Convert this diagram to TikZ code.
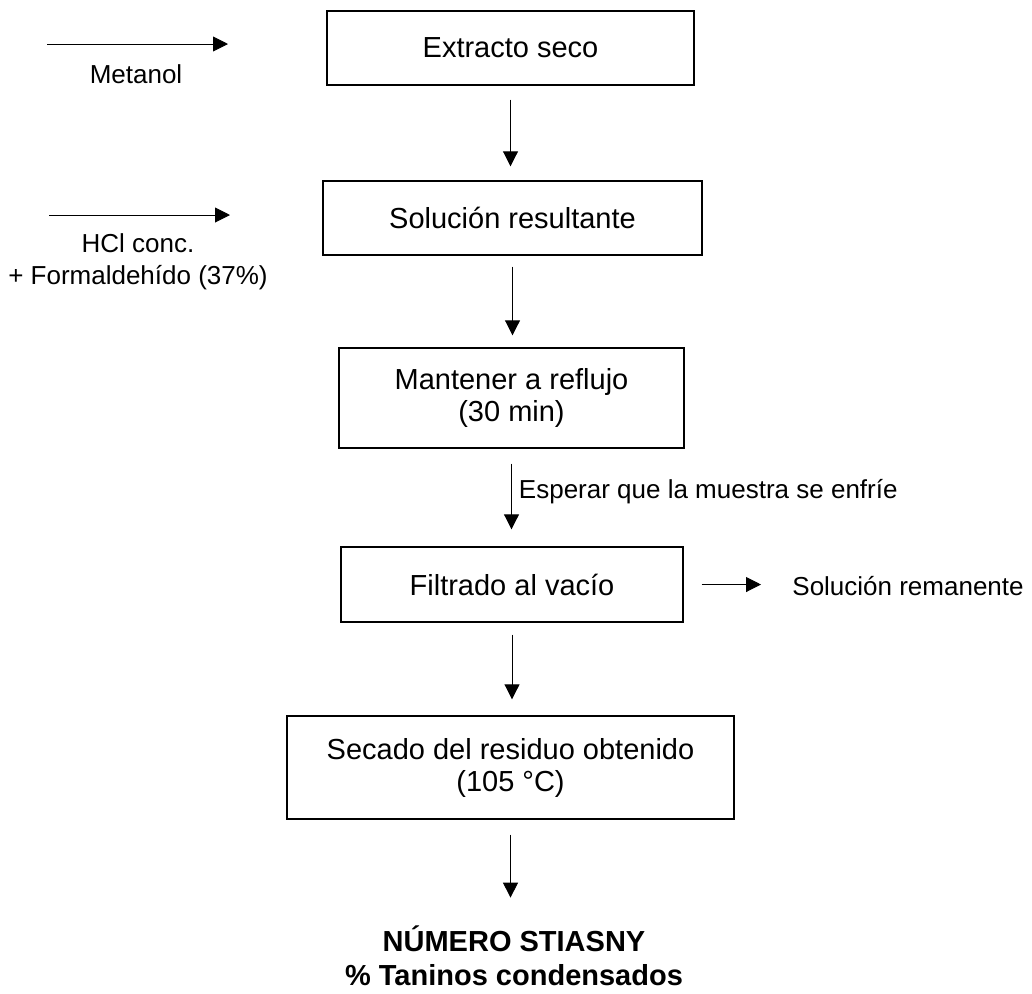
\documentclass[tikz,border=0pt]{standalone}
\usepackage{fontspec}
\setmainfont{Liberation Sans}
\usetikzlibrary{arrows.meta, positioning}

\begin{document}
\begin{tikzpicture}[x=0.5pt, y=-0.5pt,
  caja/.style={draw, line width=0.7pt, align=center, inner sep=0pt,
    font=\fontsize{14.5}{16}\selectfont},
  flecha/.style={-{Triangle[length=7.5pt, width=7.5pt]}, line width=0.45pt,
    shorten <=7pt, shorten >=7pt},
  lado/.style={align=center, inner sep=0pt, font=\fontsize{13}{16}\selectfont}]

  \useasboundingbox (0,0) rectangle (1032,993);

  %% ── Process steps ────────────────────
  \node[caja, minimum width=183.5pt, minimum height=37pt] (ext) at (510.5,48)
    {Extracto seco};
  \node[caja, minimum width=189.5pt, minimum height=37pt] (sol) at (512.5,218)
    {Solución resultante};
  \node[caja, minimum width=172.5pt, minimum height=50pt] (ref) at (511.5,398)
    {Mantener a reflujo\\(30 min)};
  \node[caja, minimum width=171pt, minimum height=37.5pt] (fil) at (512,584.5)
    {Filtrado al vacío};
  \node[caja, minimum width=223.5pt, minimum height=51.5pt] (sec) at (510.5,767.5)
    {Secado del residuo obtenido\\(105 °C)};
  \node[align=center, inner sep=0pt, font=\bfseries\fontsize{14.5}{17}\selectfont]
    (res) at (514,956) {NÚMERO STIASNY\\\% Taninos condensados};

  % main flow
  \draw[flecha] (ext.south) -- (ext.south |- sol.north);
  \draw[flecha, shorten <=5.5pt, shorten >=6pt] (sol.south) -- (sol.south |- ref.north);
  \draw[flecha, shorten <=7.5pt, shorten >=8.5pt] (ref.south) --
    node[lado, right=3.5pt, pos=0.44] (esp) {Esperar que la muestra se enfríe}
    (ref.south |- fil.north);
  \draw[flecha, shorten <=6pt, shorten >=8pt] (fil.south) -- (fil.south |- sec.north);
  \draw[flecha, shorten <=7.5pt, shorten >=14pt] (sec.south) -- (sec.south |- res.north);

  %% ── Inputs (left) ────────────────────
  \coordinate (met0) at (47,44);
  \coordinate (met1) at (228,44);
  \draw[flecha, shorten <=0pt, shorten >=0pt] (met0) -- (met1);
  \node[lado] (met) at (136,74) {Metanol};

  \coordinate (hcl0) at (49,215);
  \coordinate (hcl1) at (230,215);
  \draw[flecha, shorten <=0pt, shorten >=0pt] (hcl0) -- (hcl1);
  \node[lado] (hcl) at (138,262) {HCl conc.\\+ Formaldehído (37\%)};

  %% ── Output (right) ───────────────────
  \node[lado, anchor=west] (rem) at (792,586) {Solución remanente};
  \draw[flecha, shorten <=9pt, shorten >=15.5pt] (fil.east) -- (fil.east -| rem.west);

\end{tikzpicture}
\end{document}
